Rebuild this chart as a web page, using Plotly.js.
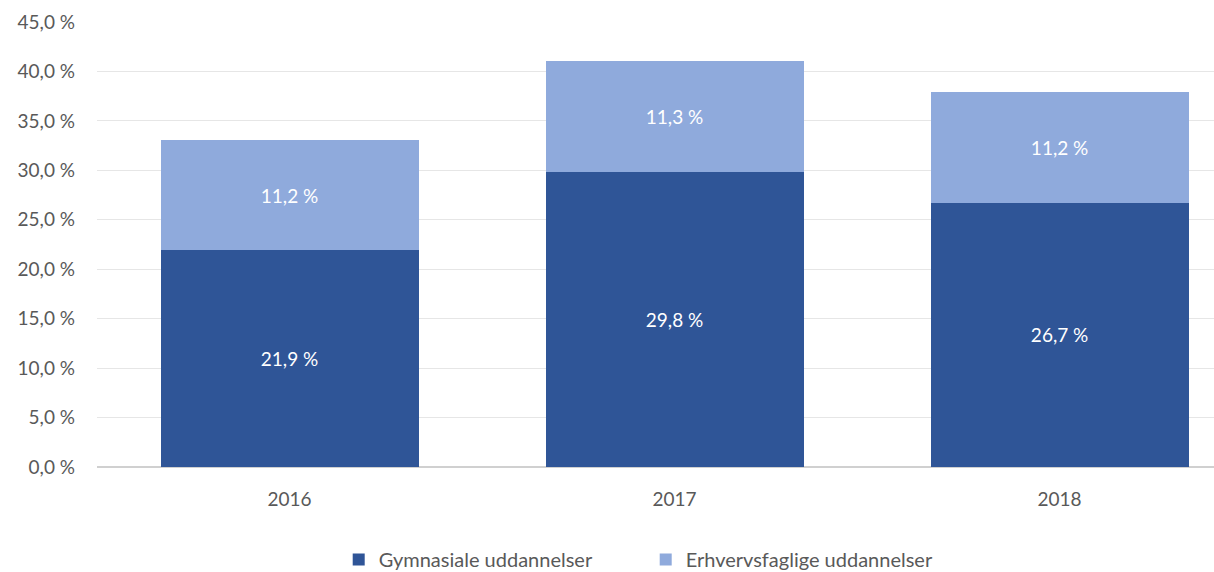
<!DOCTYPE html>
<html>
<head>
<meta charset="utf-8">
<script src="https://cdn.plot.ly/plotly-3.0.1.min.js"></script>
<style>
  html, body { margin: 0; padding: 0; background: #fff; }
  #chart { width: 1214px; height: 572px; }
</style>
</head>
<body>
<div id="chart"></div>
<script>
const years = ['2016', '2017', '2018'];
const gymnasiale = [21.9, 29.8, 26.7];
const erhvervsfaglige = [11.2, 11.3, 11.2];
const yTicks = [0, 5, 10, 15, 20, 25, 30, 35, 40, 45];

const fmt = v => v.toFixed(1).replace('.', ',') + ' %';

const labelFont = { family: 'Lato, "Open Sans", sans-serif', size: 19, color: '#ffffff' };

const traces = [
    {
        x: years,
        y: gymnasiale,
        type: 'bar',
        name: 'Gymnasiale uddannelser',
        marker: { color: '#2F5597' },
        text: gymnasiale.map(fmt),
        textposition: 'inside',
        insidetextanchor: 'middle',
        textfont: labelFont,
        hoverinfo: 'skip'
    },
    {
        x: years,
        y: erhvervsfaglige,
        type: 'bar',
        name: 'Erhvervsfaglige uddannelser',
        marker: { color: '#8FAADC' },
        text: erhvervsfaglige.map(fmt),
        textposition: 'inside',
        insidetextanchor: 'middle',
        textfont: labelFont,
        hoverinfo: 'skip'
    }
];

const layout = {
    width: 1214,
    height: 572,
    barmode: 'stack',
    bargap: 0.33,
    margin: { l: 97, r: 0, t: 22, b: 105, autoexpand: false },
    font: { family: 'Lato, "Open Sans", sans-serif', size: 19, color: '#595959' },
    xaxis: {
        type: 'category',
        range: [-0.5, 2.401],
        showgrid: false,
        showline: false,
        ticks: '',
        ticklabelstandoff: 19,
        tickfont: { size: 19, color: '#595959' }
    },
    yaxis: {
        range: [0, 45],
        tickvals: yTicks,
        ticktext: yTicks.map(fmt),
        showgrid: true,
        gridcolor: '#e6e6e6',
        gridwidth: 1,
        zeroline: true,
        zerolinecolor: '#d0d0d0',
        zerolinewidth: 1.5,
        ticks: '',
        ticklabelstandoff: 21,
        tickfont: { size: 19, color: '#595959' }
    },
    showlegend: true,
    legend: {
        orientation: 'h',
        xref: 'container',
        x: 0.279,
        xanchor: 'left',
        yref: 'container',
        y: 0.022,
        yanchor: 'middle',
        font: { size: 20, color: '#595959' },
        itemwidth: 30,
        entrywidth: 262,
        traceorder: 'normal'
    },
    plot_bgcolor: 'white',
    paper_bgcolor: 'white'
};

Plotly.newPlot('chart', traces, layout, { displayModeBar: false, staticPlot: true });
</script>
</body>
</html>
